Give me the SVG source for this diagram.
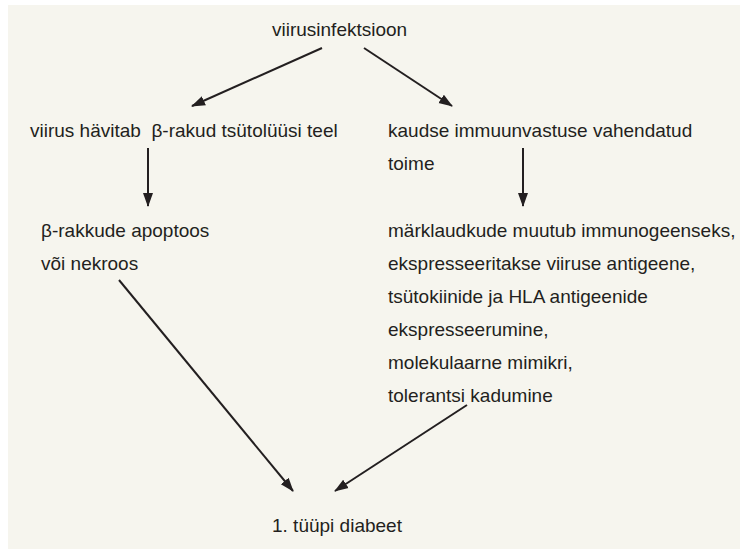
<svg xmlns="http://www.w3.org/2000/svg" width="740" height="549" viewBox="0 0 740 549">
<defs>
<style>
text{font-family:"Liberation Sans",Arial,sans-serif;font-size:19px;fill:#231f20;white-space:pre}
.c line{stroke:#231f20;stroke-width:2;fill:none}
</style>
<marker id="ah" markerUnits="userSpaceOnUse" markerWidth="14" markerHeight="12" refX="13" refY="5" orient="auto" viewBox="0 0 14 10">
<path d="M0,0 L14,5 L0,10 Z" fill="#231f20"/>
</marker>
</defs>
<rect width="740" height="549" fill="#ffffff"/>
<rect x="8" y="5" width="732" height="544" fill="#f6f5ee"/>
<g class="c" id="connectors">
<line x1="322" y1="48" x2="192" y2="106" marker-end="url(#ah)"/>
<line x1="364" y1="48" x2="452" y2="106" marker-end="url(#ah)"/>
<line x1="148" y1="148" x2="148" y2="206" marker-end="url(#ah)"/>
<line x1="523" y1="148" x2="523" y2="206" marker-end="url(#ah)"/>
<line x1="119" y1="280" x2="293" y2="491" marker-end="url(#ah)"/>
<line x1="467" y1="405" x2="335" y2="491" marker-end="url(#ah)"/>
</g>
<g id="n-top"><text x="272" y="36">viirusinfektsioon</text></g>
<g id="n-left1"><text x="30" y="137" xml:space="preserve">viirus hävitab  β-rakud tsütolüüsi teel</text></g>
<g id="n-right1"><text x="388" y="137">kaudse immuunvastuse vahendatud</text><text x="388" y="170">toime</text></g>
<g id="n-left2"><text x="41" y="237">β-rakkude apoptoos</text><text x="41" y="270">või nekroos</text></g>
<g id="n-right2">
<text x="388" y="237">märklaudkude muutub immunogeenseks,</text>
<text x="388" y="270">ekspresseeritakse viiruse antigeene,</text>
<text x="388" y="303">tsütokiinide ja HLA antigeenide</text>
<text x="388" y="336">ekspresseerumine,</text>
<text x="388" y="369">molekulaarne mimikri,</text>
<text x="388" y="402">tolerantsi kadumine</text>
</g>
<g id="n-bottom"><text x="272" y="532">1. tüüpi diabeet</text></g>
</svg>
